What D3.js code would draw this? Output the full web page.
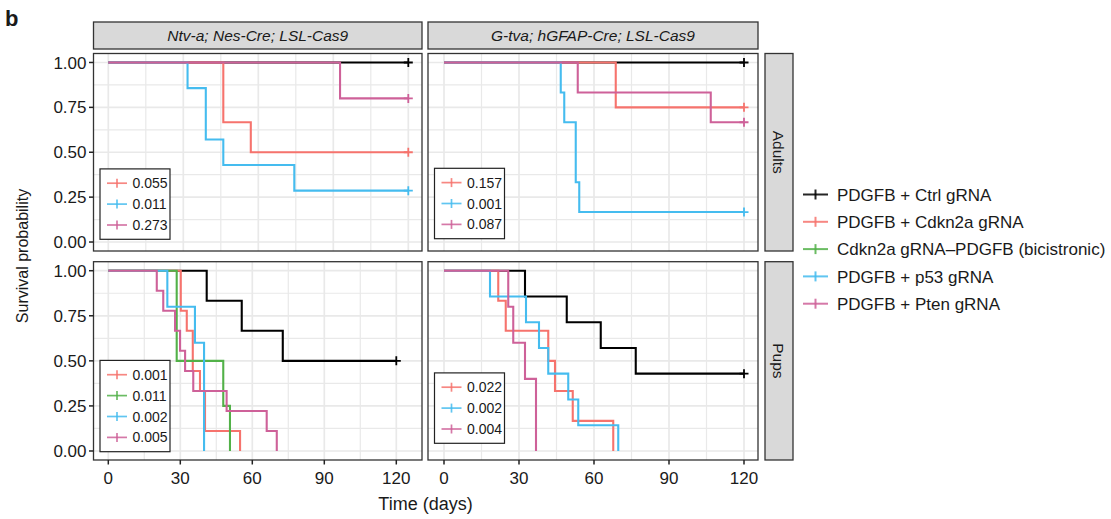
<!DOCTYPE html>
<html>
<head>
<meta charset="utf-8">
<title>Survival</title>
<style>
  body { margin: 0; background: #fff; }
  text { font-family: "Liberation Sans", Arial, sans-serif; fill: #1a1a1a; }
</style>
</head>
<body>
<svg id="chart" width="1111" height="519"></svg>
<script src="https://d3js.org/d3.v7.min.js"></script>
<script>
var groups = ["PDGFB + Ctrl gRNA", "PDGFB + Cdkn2a gRNA", "Cdkn2a gRNA\u2013PDGFB (bicistronic)", "PDGFB + p53 gRNA", "PDGFB + Pten gRNA"];
var strains = ["Ntv-a; Nes-Cre; LSL-Cas9", "G-tva; hGFAP-Cre; LSL-Cas9"];
var ages = ["Adults", "Pups"];
var xTicks = [0, 30, 60, 90, 120];
var yTicks = [0, 0.25, 0.5, 0.75, 1];
var yTickLabels = ["0.00", "0.25", "0.50", "0.75", "1.00"];

// each curve: [day, survival from that day on]; last point = end of follow-up
var ntvAdults = [
  [[0, 1], [120, 1]],
  [[0, 1], [46, 0.667], [57, 0.5], [120, 0.5]],
  null,
  [[0, 1], [31.7, 0.857], [39, 0.571], [46, 0.429], [74.4, 0.286], [120, 0.286]],
  [[0, 1], [92.7, 0.8], [120, 0.8]]
];
var gtvAdults = [
  [[0, 1], [120, 1]],
  [[0, 1], [68.7, 0.75], [120, 0.75]],
  null,
  [[0, 1], [46.7, 0.833], [48.1, 0.667], [52.7, 0.333], [54.1, 0.167], [120, 0.167]],
  [[0, 1], [53.5, 0.833], [106.7, 0.667], [120, 0.667]]
];
var ntvPups = [
  [[0, 1], [41, 0.833], [55.6, 0.667], [72.7, 0.5], [120, 0.5]],
  [[0, 1], [30.2, 0.778], [32.7, 0.667], [35.2, 0.444], [38.2, 0.333], [40.3, 0.111], [54.9, 0]],
  [[0, 1], [28.5, 0.5], [47.9, 0.25], [50.7, 0]],
  [[0, 1], [24.6, 0.8], [36.1, 0.6], [39.9, 0]],
  [[0, 1], [20.2, 0.889], [22.9, 0.778], [27.8, 0.667], [29.9, 0.556], [32, 0.444], [35.4, 0.333], [49.3, 0.222], [66, 0.111], [70.2, 0]]
];
var gtvPups = [
  [[0, 1], [32.4, 0.857], [49.1, 0.714], [62.7, 0.571], [76.7, 0.429], [120, 0.429]],
  [[0, 1], [21.7, 0.833], [24.7, 0.667], [41.7, 0.5], [44.4, 0.333], [51.5, 0.167], [67.7, 0]],
  null,
  [[0, 1], [18.4, 0.857], [32.8, 0.714], [38, 0.571], [41.7, 0.429], [49.7, 0.286], [53.7, 0.143], [69.7, 0]],
  [[0, 1], [25.7, 0.8], [27.7, 0.6], [32.4, 0.4], [36.8, 0]]
];

// log-rank p values vs control, per group
var ntvAdultsP = [null, "0.055", null, "0.011", "0.273"];
var gtvAdultsP = [null, "0.157", null, "0.001", "0.087"];
var ntvPupsP = [null, "0.001", "0.011", "0.002", "0.005"];
var gtvPupsP = [null, "0.022", null, "0.002", "0.004"];

var colors = ["#000000", "#F6736D", "#52B148", "#45BCEF", "#CE6199"];

var svg = d3.select("#chart");

var colX = [[93.5, 422], [428, 758]];
var rowY = [[53.5, 251], [261.7, 460]];

var panels = [
  {row: 0, col: 0, data: ntvAdults, p: ntvAdultsP, xr: [108.3, 408.3], legBottom: 239.3},
  {row: 0, col: 1, data: gtvAdults, p: gtvAdultsP, xr: [444, 744], legBottom: 238.7},
  {row: 1, col: 0, data: ntvPups, p: ntvPupsP, xr: [108.3, 396.3], legBottom: 451.7},
  {row: 1, col: 1, data: gtvPups, p: gtvPupsP, xr: [444, 744], legBottom: 443.3}
];

var gridMajor = [0, 30, 60, 90, 120];
var gridMinor = [15, 45, 75, 105];
var yMinor = [0.125, 0.375, 0.625, 0.875];

function plus(g, x, y, color, s) {
  g.append("line").attr("x1", x).attr("x2", x).attr("y1", y - s).attr("y2", y + s)
    .attr("stroke", color).attr("stroke-width", 1.8);
  g.append("line").attr("x1", x - s).attr("x2", x + s).attr("y1", y).attr("y2", y)
    .attr("stroke", color).attr("stroke-width", 1.8);
}

panels.forEach(function(p, i) {
  var px = colX[p.col], py = rowY[p.row];
  var x = d3.scaleLinear().domain([0, 120]).range(p.xr);
  var yr = (py[1] - py[0]) / 1.1;
  var y = d3.scaleLinear().domain([0, 1]).range([py[1] - yr * 0.05, py[0] + yr * 0.05]);

  var g = svg.append("g");
  g.append("clipPath").attr("id", "clip" + i).append("rect")
    .attr("x", px[0]).attr("y", py[0]).attr("width", px[1] - px[0]).attr("height", py[1] - py[0]);
  g.append("rect").attr("x", px[0]).attr("y", py[0]).attr("width", px[1] - px[0]).attr("height", py[1] - py[0])
    .attr("fill", "#fff");

  var grid = g.append("g").attr("clip-path", "url(#clip" + i + ")");
  grid.selectAll(".vmin").data(gridMinor).enter().append("line")
    .attr("x1", x).attr("x2", x).attr("y1", py[0]).attr("y2", py[1])
    .attr("stroke", "#E9E9E9").attr("stroke-width", 1.2);
  grid.selectAll(".hmin").data(yMinor).enter().append("line")
    .attr("y1", y).attr("y2", y).attr("x1", px[0]).attr("x2", px[1])
    .attr("stroke", "#E9E9E9").attr("stroke-width", 1.2);
  grid.selectAll(".vmaj").data(gridMajor).enter().append("line")
    .attr("x1", x).attr("x2", x).attr("y1", py[0]).attr("y2", py[1])
    .attr("stroke", "#E9E9E9").attr("stroke-width", 1.7);
  grid.selectAll(".hmaj").data(yTicks).enter().append("line")
    .attr("y1", y).attr("y2", y).attr("x1", px[0]).attr("x2", px[1])
    .attr("stroke", "#E9E9E9").attr("stroke-width", 1.7);

  var line = d3.line().x(function(d) { return x(d[0]); }).y(function(d) { return y(d[1]); })
    .curve(d3.curveStepAfter);
  var curves = g.append("g").attr("clip-path", "url(#clip" + i + ")");
  p.data.forEach(function(c, k) {
    if (!c) return;
    curves.append("path").attr("d", line(c)).attr("fill", "none")
      .attr("stroke", colors[k]).attr("stroke-width", 2.1);
    var last = c[c.length - 1];
    if (last[1] > 0) plus(curves, x(last[0]), y(last[1]), colors[k], 4.5);
  });

  // inset legend with p values
  var items = [];
  p.p.forEach(function(v, k) { if (v) items.push({k: k, v: v}); });
  var step = 20.9, pad = 14.3;
  var bh = (items.length - 1) * step + pad * 2;
  var bx = px[0] + 6.5, by = p.legBottom - bh;
  var leg = g.append("g");
  leg.append("rect").attr("x", bx).attr("y", by).attr("width", 70).attr("height", bh)
    .attr("fill", "#fff").attr("stroke", "#222").attr("stroke-width", 1.2);
  items.forEach(function(it, j) {
    var cy = by + pad + j * step;
    leg.append("line").attr("x1", bx + 7).attr("x2", bx + 27).attr("y1", cy).attr("y2", cy)
      .attr("stroke", colors[it.k]).attr("stroke-width", 1.7).attr("opacity", 0.85);
    leg.append("line").attr("x1", bx + 17).attr("x2", bx + 17).attr("y1", cy - 4.5).attr("y2", cy + 4.5)
      .attr("stroke", colors[it.k]).attr("stroke-width", 1.7).attr("opacity", 0.85);
    leg.append("text").attr("x", bx + 32.5).attr("y", cy).attr("dy", "0.36em")
      .style("font-size", "14px").text(it.v);
  });

  g.append("rect").attr("x", px[0]).attr("y", py[0]).attr("width", px[1] - px[0]).attr("height", py[1] - py[0])
    .attr("fill", "none").attr("stroke", "#333").attr("stroke-width", 1.3);

  if (p.col === 0) {
    var ya = g.append("g");
    yTicks.forEach(function(t, j) {
      ya.append("line").attr("x1", px[0] - 4.5).attr("x2", px[0]).attr("y1", y(t)).attr("y2", y(t))
        .attr("stroke", "#222").attr("stroke-width", 1.5);
      ya.append("text").attr("x", px[0] - 7).attr("y", y(t)).attr("dy", "0.36em")
        .attr("text-anchor", "end").style("font-size", "17px").text(yTickLabels[j]);
    });
  }
  if (p.row === 1) {
    var xa = g.append("g");
    xTicks.forEach(function(t) {
      xa.append("line").attr("x1", x(t)).attr("x2", x(t)).attr("y1", py[1]).attr("y2", py[1] + 4.5)
        .attr("stroke", "#222").attr("stroke-width", 1.5);
      xa.append("text").attr("x", x(t)).attr("y", py[1] + 24)
        .attr("text-anchor", "middle").style("font-size", "17px").text(t);
    });
  }
});

// column strips
strains.forEach(function(s, c) {
  var px = colX[c];
  svg.append("rect").attr("x", px[0]).attr("y", 22).attr("width", px[1] - px[0]).attr("height", 27)
    .attr("fill", "#D9D9D9").attr("stroke", "#333").attr("stroke-width", 1.3);
  svg.append("text").attr("x", (px[0] + px[1]) / 2).attr("y", 35.5).attr("dy", "0.36em")
    .attr("text-anchor", "middle").style("font-size", "15.5px").style("font-style", "italic").text(s);
});

// row strips
ages.forEach(function(a, r) {
  var py = rowY[r];
  svg.append("rect").attr("x", 765).attr("y", py[0]).attr("width", 28).attr("height", py[1] - py[0])
    .attr("fill", "#D9D9D9").attr("stroke", "#333").attr("stroke-width", 1.3);
  svg.append("text").attr("transform", "translate(779," + ((py[0] + py[1]) / 2) + ") rotate(90)")
    .attr("dy", "0.36em").attr("text-anchor", "middle").style("font-size", "15.5px").text(a);
});

// main legend
var lg = svg.append("g");
groups.forEach(function(name, k) {
  var cy = 194.5 + k * 27.3;
  lg.append("line").attr("x1", 803).attr("x2", 828).attr("y1", cy).attr("y2", cy)
    .attr("stroke", colors[k]).attr("stroke-width", 2).attr("opacity", 0.85);
  lg.append("line").attr("x1", 815.5).attr("x2", 815.5).attr("y1", cy - 5).attr("y2", cy + 5)
    .attr("stroke", colors[k]).attr("stroke-width", 2).attr("opacity", 0.85);
  lg.append("text").attr("x", 837).attr("y", cy).attr("dy", "0.36em")
    .style("font-size", "17px").text(name);
});

svg.append("text").attr("transform", "translate(22,256) rotate(-90)").attr("dy", "0.36em")
  .attr("text-anchor", "middle").style("font-size", "16px").text("Survival probability");
svg.append("text").attr("x", 425.5).attr("y", 510)
  .attr("text-anchor", "middle").style("font-size", "18px").text("Time (days)");
svg.append("text").attr("x", 5).attr("y", 26)
  .style("font-size", "22px").style("font-weight", "bold").text("b");
</script>
</body>
</html>
